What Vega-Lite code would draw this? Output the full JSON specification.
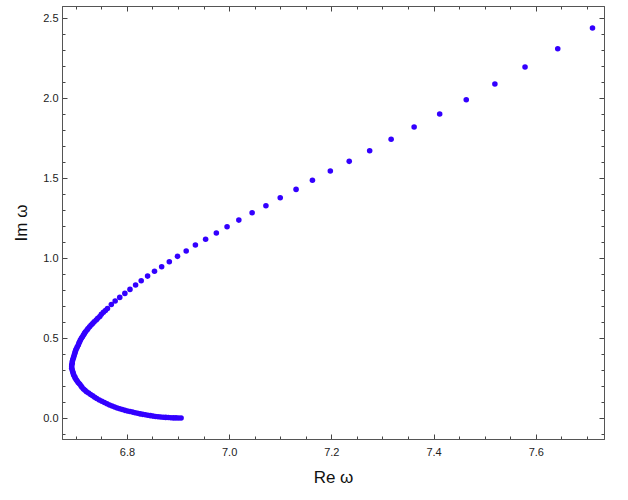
{
  "$schema": "https://vega.github.io/schema/vega-lite/v6.json",
  "autosize": {"type": "none"},
  "padding": {"left": 62, "top": 6, "right": 24, "bottom": 61},
  "width": 542,
  "height": 433,
  "background": "white",
  "config": {
    "view": {"stroke": "#555555", "strokeWidth": 1},
    "axis": {
      "labelFont": "Liberation Sans",
      "labelFontSize": 11,
      "labelColor": "#222222",
      "titleFont": "Liberation Sans",
      "titleFontSize": 17,
      "titleFontWeight": "normal",
      "titleColor": "#111111",
      "domainColor": "#555555",
      "tickColor": "#444444",
      "grid": false,
      "labelOverlap": false,
      "labelFlush": false
    }
  },
  "data": {
    "values": [
      {"re": 6.906, "im": 0.002}, {"re": 6.901, "im": 0.002}, {"re": 6.896, "im": 0.003}, {"re": 6.891, "im": 0.003},
      {"re": 6.886, "im": 0.004}, {"re": 6.881, "im": 0.005}, {"re": 6.876, "im": 0.006}, {"re": 6.871, "im": 0.007},
      {"re": 6.866, "im": 0.008}, {"re": 6.861, "im": 0.010}, {"re": 6.856, "im": 0.012}, {"re": 6.851, "im": 0.014},
      {"re": 6.846, "im": 0.017}, {"re": 6.841, "im": 0.019}, {"re": 6.836, "im": 0.022}, {"re": 6.831, "im": 0.025},
      {"re": 6.826, "im": 0.028}, {"re": 6.821, "im": 0.032}, {"re": 6.816, "im": 0.035}, {"re": 6.811, "im": 0.039},
      {"re": 6.806, "im": 0.043}, {"re": 6.801, "im": 0.046}, {"re": 6.796, "im": 0.050}, {"re": 6.791, "im": 0.055},
      {"re": 6.786, "im": 0.060}, {"re": 6.781, "im": 0.065}, {"re": 6.776, "im": 0.071}, {"re": 6.771, "im": 0.077},
      {"re": 6.766, "im": 0.083}, {"re": 6.761, "im": 0.091}, {"re": 6.756, "im": 0.099}, {"re": 6.751, "im": 0.107},
      {"re": 6.746, "im": 0.115}, {"re": 6.741, "im": 0.124}, {"re": 6.737, "im": 0.132}, {"re": 6.733, "im": 0.141},
      {"re": 6.729, "im": 0.149}, {"re": 6.725, "im": 0.158}, {"re": 6.721, "im": 0.166}, {"re": 6.718, "im": 0.175},
      {"re": 6.715, "im": 0.184}, {"re": 6.712, "im": 0.194}, {"re": 6.710, "im": 0.204}, {"re": 6.7075, "im": 0.214},
      {"re": 6.705, "im": 0.223}, {"re": 6.703, "im": 0.232}, {"re": 6.701, "im": 0.241}, {"re": 6.699, "im": 0.251},
      {"re": 6.698, "im": 0.260}, {"re": 6.696, "im": 0.270}, {"re": 6.695, "im": 0.281}, {"re": 6.694, "im": 0.291},
      {"re": 6.693, "im": 0.302}, {"re": 6.692, "im": 0.3125}, {"re": 6.692, "im": 0.323}, {"re": 6.692, "im": 0.333},
      {"re": 6.693, "im": 0.343}, {"re": 6.693, "im": 0.354}, {"re": 6.694, "im": 0.364}, {"re": 6.695, "im": 0.375},
      {"re": 6.696, "im": 0.385}, {"re": 6.697, "im": 0.396}, {"re": 6.698, "im": 0.406}, {"re": 6.699, "im": 0.417},
      {"re": 6.700, "im": 0.427}, {"re": 6.7015, "im": 0.437}, {"re": 6.703, "im": 0.448}, {"re": 6.705, "im": 0.458},
      {"re": 6.706, "im": 0.469}, {"re": 6.7075, "im": 0.479}, {"re": 6.709, "im": 0.489}, {"re": 6.711, "im": 0.500},
      {"re": 6.713, "im": 0.510}, {"re": 6.715, "im": 0.521}, {"re": 6.717, "im": 0.531}, {"re": 6.719, "im": 0.541},
      {"re": 6.722, "im": 0.552}, {"re": 6.724, "im": 0.562}, {"re": 6.727, "im": 0.573}, {"re": 6.730, "im": 0.583},
      {"re": 6.733, "im": 0.593}, {"re": 6.736, "im": 0.604}, {"re": 6.740, "im": 0.615}, {"re": 6.743, "im": 0.625},
      {"re": 6.747, "im": 0.637}, {"re": 6.750, "im": 0.650}, {"re": 6.754, "im": 0.6625}, {"re": 6.758, "im": 0.674},
      {"re": 6.762, "im": 0.687}, {"re": 6.7695, "im": 0.711}, {"re": 6.777, "im": 0.733}, {"re": 6.786, "im": 0.756},
      {"re": 6.796, "im": 0.781}, {"re": 6.806, "im": 0.806}, {"re": 6.817, "im": 0.833}, {"re": 6.828, "im": 0.860},
      {"re": 6.8405, "im": 0.889}, {"re": 6.854, "im": 0.919}, {"re": 6.868, "im": 0.9475}, {"re": 6.883, "im": 0.979},
      {"re": 6.899, "im": 1.0125}, {"re": 6.916, "im": 1.046}, {"re": 6.934, "im": 1.083}, {"re": 6.954, "im": 1.119},
      {"re": 6.975, "im": 1.158}, {"re": 6.996, "im": 1.1975}, {"re": 7.019, "im": 1.239}, {"re": 7.045, "im": 1.285},
      {"re": 7.072, "im": 1.329}, {"re": 7.100, "im": 1.379}, {"re": 7.131, "im": 1.431}, {"re": 7.163, "im": 1.4875},
      {"re": 7.198, "im": 1.546}, {"re": 7.235, "im": 1.606}, {"re": 7.275, "im": 1.6725}, {"re": 7.317, "im": 1.744},
      {"re": 7.362, "im": 1.821}, {"re": 7.412, "im": 1.902}, {"re": 7.464, "im": 1.991}, {"re": 7.520, "im": 2.089},
      {"re": 7.579, "im": 2.196}, {"re": 7.643, "im": 2.310}, {"re": 7.711, "im": 2.439}
    ]
  },
  "layer": [
    {
      "mark": {"type": "point", "filled": true, "size": 31, "color": "#3300ff", "opacity": 1},
      "encoding": {
        "x": {
          "field": "re", "type": "quantitative",
          "scale": {"domain": [6.673, 7.7335], "nice": false, "zero": false},
          "axis": {
            "orient": "bottom",
            "title": "Re ω",
            "values": [6.7, 6.75, 6.8, 6.85, 6.9, 6.95, 7.0, 7.05, 7.1, 7.15, 7.2, 7.25, 7.3, 7.35, 7.4, 7.45, 7.5, 7.55, 7.6, 7.65, 7.7],
            "labelExpr": "abs(datum.value*5 - round(datum.value*5)) < 1e-6 ? format(datum.value, '.1f') : ''",
            "tickSize": {"condition": {"test": "abs(datum.value*5 - round(datum.value*5)) < 1e-6", "value": -5}, "value": -3},
            "labelPadding": 12,
            "titlePadding": 10
          }
        },
        "y": {
          "field": "im", "type": "quantitative",
          "scale": {"domain": [-0.129, 2.577], "nice": false, "zero": false},
          "axis": {
            "orient": "left",
            "title": "Im ω",
            "values": [-0.1, 0, 0.1, 0.2, 0.3, 0.4, 0.5, 0.6, 0.7, 0.8, 0.9, 1.0, 1.1, 1.2, 1.3, 1.4, 1.5, 1.6, 1.7, 1.8, 1.9, 2.0, 2.1, 2.2, 2.3, 2.4, 2.5],
            "labelExpr": "abs(datum.value*2 - round(datum.value*2)) < 1e-6 ? format(datum.value, '.1f') : ''",
            "tickSize": {"condition": {"test": "abs(datum.value*2 - round(datum.value*2)) < 1e-6", "value": -5}, "value": -3},
            "labelPadding": 9,
            "titlePadding": 12
          }
        }
      }
    },
    {
      "mark": {"type": "point", "filled": true, "size": 31, "opacity": 0},
      "encoding": {
        "x": {
          "field": "re", "type": "quantitative",
          "scale": {"domain": [6.673, 7.7335], "nice": false, "zero": false},
          "axis": {
            "orient": "top",
            "title": null,
            "labels": false,
            "values": [6.7, 6.75, 6.8, 6.85, 6.9, 6.95, 7.0, 7.05, 7.1, 7.15, 7.2, 7.25, 7.3, 7.35, 7.4, 7.45, 7.5, 7.55, 7.6, 7.65, 7.7],
            "tickSize": {"condition": {"test": "abs(datum.value*5 - round(datum.value*5)) < 1e-6", "value": -5}, "value": -3}
          }
        },
        "y": {
          "field": "im", "type": "quantitative",
          "scale": {"domain": [-0.129, 2.577], "nice": false, "zero": false},
          "axis": {
            "orient": "right",
            "title": null,
            "labels": false,
            "values": [-0.1, 0, 0.1, 0.2, 0.3, 0.4, 0.5, 0.6, 0.7, 0.8, 0.9, 1.0, 1.1, 1.2, 1.3, 1.4, 1.5, 1.6, 1.7, 1.8, 1.9, 2.0, 2.1, 2.2, 2.3, 2.4, 2.5],
            "tickSize": {"condition": {"test": "abs(datum.value*2 - round(datum.value*2)) < 1e-6", "value": -5}, "value": -3}
          }
        }
      }
    }
  ],
  "resolve": {"axis": {"x": "independent", "y": "independent"}}
}
